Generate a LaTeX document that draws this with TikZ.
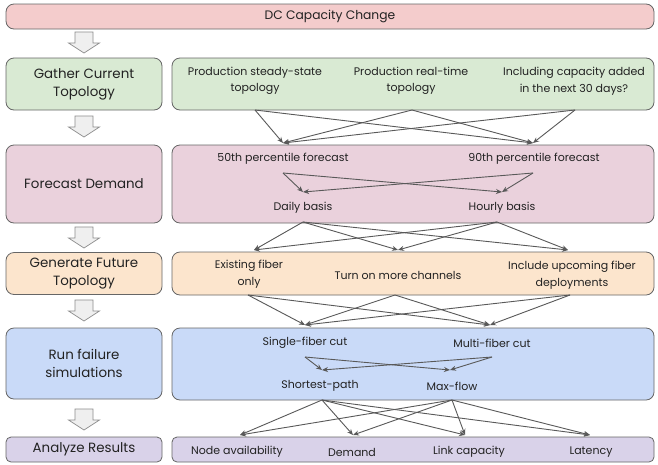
\documentclass[tikz,border=0pt]{standalone}
\usepackage{fontspec}
\setmainfont{Poppins}
\usetikzlibrary{arrows.meta}
\definecolor{cpink}{HTML}{F4CCCC}
\definecolor{cgreen}{HTML}{D9EAD3}
\definecolor{cmauve}{HTML}{EAD1DC}
\definecolor{corange}{HTML}{FCE5CD}
\definecolor{cblue}{HTML}{C9DAF8}
\definecolor{cpurple}{HTML}{D9D2E9}
\definecolor{cborder}{HTML}{666666}
\definecolor{cline}{HTML}{595959}
\definecolor{cafill}{HTML}{EFEFEF}
\definecolor{cadraw}{HTML}{8C8C8C}
\definecolor{ctext}{HTML}{222222}
\begin{document}
\begin{tikzpicture}[x=1pt,y=-1pt,
  box/.style={draw=cborder, line width=0.8pt, rounded corners=8pt, inner sep=0pt, outer sep=0pt, text=ctext},
  sbox/.style={box, rounded corners=5pt},
  title/.style={font=\fontsize{13.4}{18}\selectfont, align=center},
  txt/.style={font=\fontsize{11}{16.5}\selectfont, align=center, inner sep=0pt, text=ctext},
  conn/.style={draw=cline, line width=0.9pt, -{Stealth[length=6pt,width=5pt]}},
  bigarrow/.pic={\draw[fill=cafill, draw=cadraw, line width=0.7pt] (-9,0) -- (9,0) -- (9,11) -- (15.5,11) -- (0,21) -- (-15.5,11) -- (-9,11) -- cycle;}
]
\useasboundingbox[fill=white] (0,0) rectangle (658,464);

% row 1
\node[box, fill=cpink, minimum width=648pt, minimum height=25pt, font=\fontsize{12.3}{14}\selectfont] (dc) at (330,16.5) {DC Capacity Change};
\pic at (84,32) {bigarrow};

% row 2
\node[box, fill=cgreen, minimum width=156pt, minimum height=52pt, title] (gather) at (84,84) {Gather Current\\Topology};
\node[box, fill=cgreen, minimum width=482pt, minimum height=52pt] (gatherR) at (413,84) {};
\node[txt] (ss) at (255,81) {Production steady-state\\topology};
\node[txt] (rt) at (411,81) {Production real-time\\topology};
\node[txt] (inc) at (574,81) {Including capacity added\\in the next 30 days?};
\coordinate (ss-o) at (255,110);
\coordinate (rt-o) at (412,110);
\coordinate (inc-o) at (575,110);
\pic at (84,116) {bigarrow};

% row 3
\node[box, fill=cmauve, minimum width=156pt, minimum height=78pt, title] (forecast) at (84,184) {Forecast Demand};
\node[box, fill=cmauve, minimum width=482pt, minimum height=78pt] (forecastR) at (413,184) {};
\node[txt] (p50) at (283,159) {50th percentile forecast};
\node[txt] (p90) at (534,159) {90th percentile forecast};
\node[txt] (daily) at (303,208) {Daily basis};
\node[txt] (hourly) at (502,208) {Hourly basis};
\coordinate (p50-i) at (283,143);
\coordinate (p90-i) at (533,143);
\coordinate (p50-o) at (283,173);
\coordinate (p90-o) at (533,173);
\coordinate (daily-i) at (303,192);
\coordinate (hourly-i) at (502,192);
\coordinate (daily-o) at (303,222);
\coordinate (hourly-o) at (497,222);
\pic at (84,227) {bigarrow};

% row 4
\node[box, fill=corange, minimum width=156pt, minimum height=42pt, title] (generate) at (84,273.5) {Generate Future\\Topology};
\node[box, fill=corange, minimum width=482pt, minimum height=43pt] (generateR) at (413,273.5) {};
\node[txt] (ex) at (249,274) {Existing fiber\\only};
\node[txt] (turn) at (398,275) {Turn on more channels};
\node[txt] (upc) at (572,275) {Include upcoming fiber\\deployments};
\coordinate (ex-i) at (254,250);
\coordinate (turn-i) at (398,250);
\coordinate (upc-i) at (568,250);
\coordinate (ex-o) at (248,295);
\coordinate (turn-o) at (395,295);
\coordinate (upc-o) at (570,295);
\pic at (84,300) {bigarrow};

% row 5
\node[box, fill=cblue, minimum width=156pt, minimum height=71pt, title] (run) at (84,363.5) {Run failure\\simulations};
\node[box, fill=cblue, minimum width=482pt, minimum height=72pt] (runR) at (413,364) {};
\node[txt] (single) at (305,343) {Single-fiber cut};
\node[txt] (multi) at (492,343) {Multi-fiber cut};
\node[txt] (short) at (320,386) {Shortest-path};
\node[txt] (maxf) at (452,386) {Max-flow};
\coordinate (single-i) at (305,325);
\coordinate (multi-i) at (490,325);
\coordinate (single-o) at (305,357);
\coordinate (multi-o) at (492,357);
\coordinate (short-i) at (322,370);
\coordinate (maxf-i) at (450,370);
\coordinate (short-o) at (322,400);
\coordinate (maxf-o) at (452,400);
\pic at (84,409) {bigarrow};

% row 6
\node[sbox, fill=cpurple, minimum width=156pt, minimum height=25pt, title] (analyze) at (84,449.5) {Analyze Results};
\node[sbox, fill=cpurple, minimum width=482pt, minimum height=25pt] (analyzeR) at (413,449.5) {};
\node[txt] (node) at (237,452) {Node availability};
\node[txt] (dem) at (352,452) {Demand};
\node[txt] (link) at (469,452) {Link capacity};
\node[txt] (lat) at (591,452) {Latency};
\coordinate (node-i) at (240,435);
\coordinate (dem-i) at (353,435);
\coordinate (link-i) at (465,435);
\coordinate (lat-i) at (590,435);

% connectors
\foreach \s in {ss,rt,inc}{\foreach \t in {p50,p90}{\draw[conn] (\s-o) -- (\t-i);}}
\foreach \s in {p50,p90}{\foreach \t in {daily,hourly}{\draw[conn] (\s-o) -- (\t-i);}}
\foreach \s in {daily,hourly}{\foreach \t in {ex,turn,upc}{\draw[conn] (\s-o) -- (\t-i);}}
\foreach \s in {ex,turn,upc}{\foreach \t in {single,multi}{\draw[conn] (\s-o) -- (\t-i);}}
\foreach \s in {single,multi}{\foreach \t in {short,maxf}{\draw[conn] (\s-o) -- (\t-i);}}
\foreach \s in {short,maxf}{\foreach \t in {node,dem,link,lat}{\draw[conn] (\s-o) -- (\t-i);}}
\end{tikzpicture}
\end{document}
